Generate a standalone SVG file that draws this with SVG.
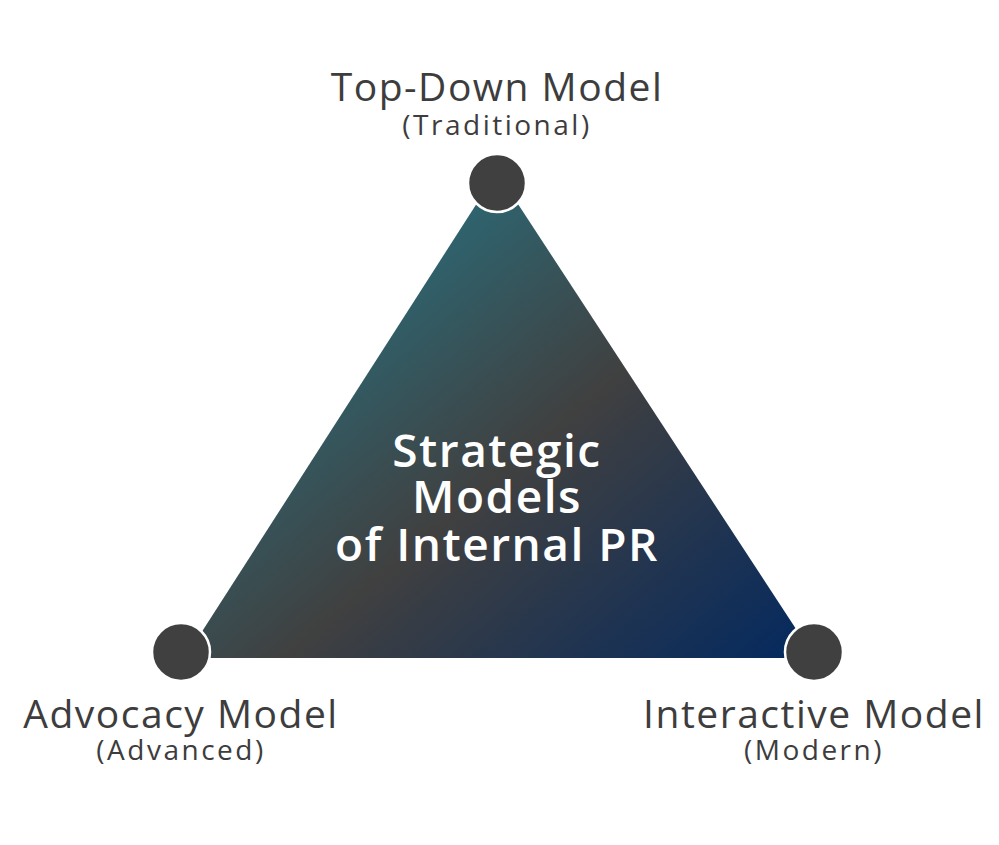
<svg xmlns="http://www.w3.org/2000/svg" width="999" height="845" viewBox="0 0 999 845">
<defs>
<linearGradient id="g" x1="380" y1="230" x2="760" y2="680" gradientUnits="userSpaceOnUse">
<stop offset="0" stop-color="#2b6a77"/>
<stop offset="0.45" stop-color="#404040"/>
<stop offset="1" stop-color="#062a5e"/>
</linearGradient>
<style>
.dot{fill:#404040;stroke:#fff;stroke-width:2.5}
.t{font-family:"Open Sans","DejaVu Sans",sans-serif;fill:#3d3d3d;text-anchor:middle}
.big{font-size:39px;letter-spacing:1.5px}
.sm{font-size:28px;letter-spacing:2.5px}
.c{font-family:"Open Sans","DejaVu Sans",sans-serif;fill:#fff;font-size:46px;font-weight:600;text-anchor:middle;letter-spacing:1.5px}
</style>
</defs>
<rect width="999" height="845" fill="#fff"/>
<g id="triangle">
<polygon points="497,172 185,658 815,658" fill="url(#g)"/>
<text class="c" x="497" y="467">Strategic</text>
<text class="c" x="497" y="513">Models</text>
<text class="c" x="497" y="561">of Internal PR</text>
</g>
<g id="connectors"></g>
<g id="top">
<circle class="dot" cx="497" cy="183" r="29"/>
<text class="t big" x="497" y="101">Top-Down Model</text>
<text class="t sm" x="497" y="135">(Traditional)</text>
</g>
<g id="left">
<circle class="dot" cx="181" cy="652" r="29"/>
<text class="t big" x="181" y="728">Advocacy Model</text>
<text class="t sm" x="181" y="760">(Advanced)</text>
</g>
<g id="right">
<circle class="dot" cx="814" cy="652" r="29"/>
<text class="t big" x="814" y="728">Interactive Model</text>
<text class="t sm" x="814" y="760">(Modern)</text>
</g>
</svg>
